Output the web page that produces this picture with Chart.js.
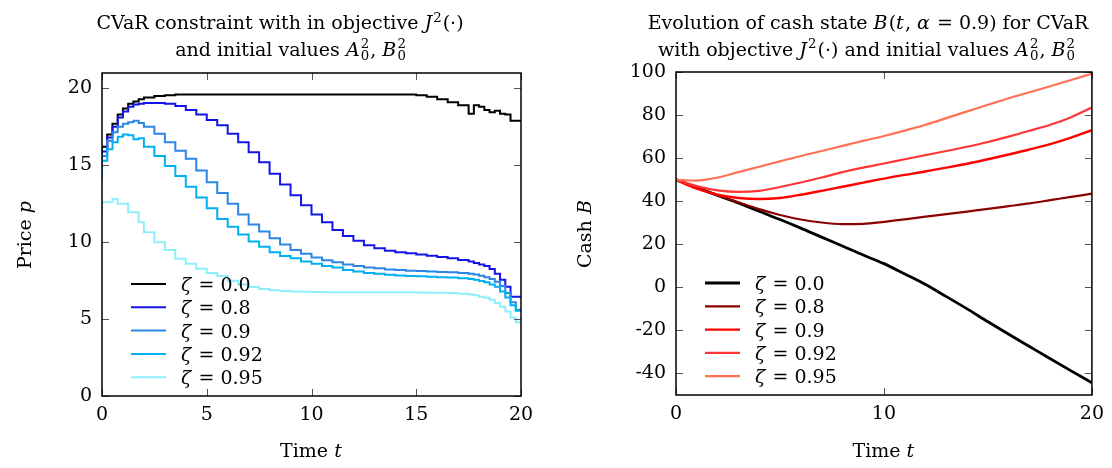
<!DOCTYPE html>
<html>
<head>
<meta charset="utf-8">
<script src="https://cdn.jsdelivr.net/npm/chart.js@4.4.0/dist/chart.umd.min.js"></script>
<style>
  html, body { margin: 0; padding: 0; background: #fff; }
  #wrap { position: relative; width: 1112px; height: 468px; }
  .panel { position: absolute; top: 0; width: 556px; height: 468px; }
</style>
</head>
<body>
<div id="wrap">
  <div class="panel" style="left:0"><canvas id="priceChart" width="556" height="468"></canvas></div>
  <div class="panel" style="left:556px"><canvas id="cashChart" width="556" height="468"></canvas></div>
</div>
<script>
// ---- left panel: price p(t), piecewise constant ----
const priceTimes = [0, 0.25, 0.5, 0.75, 1, 1.25, 1.5, 1.75, 2, 2.5, 3, 3.5, 4, 4.5, 5, 5.5, 6, 6.5, 7, 7.5,
  8, 8.5, 9, 9.5, 10, 10.5, 11, 11.5, 12, 12.5, 13, 13.5, 14, 14.5, 15, 15.5, 16, 16.5, 17, 17.5,
  17.75, 18, 18.25, 18.5, 18.75, 19, 19.25, 19.5, 19.75, 20];
const price00 = [14.8, 16.2, 17.0, 17.7, 18.3, 18.7, 19.0, 19.15, 19.3, 19.4, 19.5, 19.55, 19.6, 19.6,
  19.6, 19.6, 19.6, 19.6, 19.6, 19.6, 19.6, 19.6, 19.6, 19.6, 19.6, 19.6, 19.6, 19.6, 19.6, 19.6, 19.6, 19.6, 19.6, 19.6,
  19.6, 19.55, 19.45, 19.3, 19.1, 18.9, 18.35, 18.9, 18.8, 18.6, 18.45, 18.55, 18.35, 18.3, 17.9, 17.9];
const price80 = [14.5, 15.9, 16.8, 17.5, 18.1, 18.5, 18.8, 18.95, 19.0, 19.05, 19.05, 19.0, 18.85, 18.6,
  18.3, 17.95, 17.6, 17.05, 16.5, 15.85, 15.2, 14.45, 13.75, 13.05, 12.4, 11.8, 11.3, 10.8, 10.4, 10.1, 9.8, 9.6, 9.45, 9.35,
  9.28, 9.2, 9.12, 9.03, 8.95, 8.85, 8.75, 8.65, 8.55, 8.45, 8.25, 7.95, 7.55, 7.1, 6.45, 6.45];
const price90 = [14.3, 15.6, 16.6, 17.15, 17.5, 17.7, 17.8, 17.9, 17.75, 17.5, 17.05, 16.5, 15.95, 15.42,
  14.66, 13.9, 13.2, 12.5, 11.8, 11.15, 10.7, 10.25, 9.85, 9.5, 9.25, 9.0, 8.82, 8.7, 8.55, 8.45, 8.35, 8.3, 8.22, 8.2,
  8.15, 8.12, 8.1, 8.07, 8.05, 8.0, 7.95, 7.9, 7.82, 7.72, 7.6, 7.42, 7.15, 6.7, 6.1, 5.6];
const price92 = [14.1, 15.3, 16.05, 16.5, 16.85, 17.0, 16.95, 16.7, 16.75, 16.2, 15.6, 14.95, 14.3, 13.6,
  12.9, 12.2, 11.5, 11.0, 10.5, 10.05, 9.7, 9.35, 9.1, 8.95, 8.75, 8.6, 8.45, 8.35, 8.2, 8.1, 8.0, 7.95, 7.88, 7.83,
  7.8, 7.78, 7.75, 7.72, 7.7, 7.65, 7.6, 7.55, 7.48, 7.4, 7.25, 7.1, 6.8, 6.4, 5.9, 5.55];
const price95 = [11.95, 12.6, 12.6, 12.8, 12.5, 12.5, 11.95, 11.95, 11.3, 10.65, 10.0, 9.5, 8.92, 8.6,
  8.27, 8.0, 7.8, 7.5, 7.25, 7.08, 6.95, 6.88, 6.82, 6.8, 6.78, 6.76, 6.75, 6.75, 6.75, 6.75, 6.75, 6.75, 6.75, 6.75,
  6.74, 6.73, 6.72, 6.71, 6.7, 6.65, 6.6, 6.55, 6.45, 6.38, 6.25, 6.05, 5.8, 5.5, 5.1, 4.8];
const priceColors = ['#000000', '#1414e6', '#2b87e3', '#00b0f2', '#8eeefc'];
const priceXTicks = [0, 5, 10, 15, 20];
const priceYTicks = [0, 5, 10, 15, 20];

// ---- right panel: cash B(t) ----
const cashTimes = [0, 1, 2, 3, 4, 5, 6, 7, 8, 9, 10, 11, 12, 13, 14, 15, 16, 17, 18, 19, 20];
const cash00 = [50, 46.3, 42.7, 39.2, 35.3, 31.5, 27.5, 23.3, 19.2, 15.0, 11.0, 6.2, 1.3, -4.3, -10, -16, -21.8, -27.5, -33.2, -38.8, -44.3];
const cash80 = [50, 46.4, 42.8, 39.5, 36.3, 33.6, 31.5, 30.1, 29.4, 29.5, 30.4, 31.6, 32.8, 34.0, 35.2, 36.4, 37.7, 39.0, 40.5, 42.0, 43.5];
const cash90 = [50, 45.8, 43.0, 41.5, 41.0, 41.5, 43.0, 44.8, 46.7, 48.6, 50.5, 52.2, 53.8, 55.6, 57.4, 59.5, 61.7, 64.0, 66.5, 69.5, 73.0];
const cash92 = [50, 47.0, 45.0, 44.3, 44.8, 46.6, 48.7, 51.0, 53.5, 55.6, 57.5, 59.5, 61.4, 63.3, 65.3, 67.5, 70.0, 72.7, 75.5, 79.0, 83.5];
const cash95 = [50, 49.6, 51.0, 53.5, 56.0, 58.5, 61.0, 63.3, 65.7, 68.0, 70.3, 72.8, 75.5, 78.6, 81.7, 84.8, 87.8, 90.6, 93.4, 96.3, 99.2];
const cashColors = ['#000000', '#8b0000', '#ff0000', '#ff3535', '#ff7055'];
const cashXTicks = [0, 10, 20];
const cashYTicks = [-40, -20, 0, 20, 40, 60, 80, 100];

const zetaLabels = ['0.0', '0.8', '0.9', '0.92', '0.95'];

const FONT = '"DejaVu Serif", serif';
const FS = 19;

// rich text helpers (italic math letters, super/subscripts)
function segFont(italic, size) {
    return (italic ? 'italic ' : '') + size + 'px ' + FONT;
}
function segWidth(ctx, s, size) {
    if (s.sup !== undefined || s.sub !== undefined) {
        ctx.font = segFont(false, size * 0.7);
        const a = s.sup ? ctx.measureText(s.sup).width : 0;
        const b = s.sub ? ctx.measureText(s.sub).width : 0;
        return Math.max(a, b) + 1;
    }
    ctx.font = segFont(s.i, size);
    return ctx.measureText(s.t).width + (s.i ? size * 0.06 : 0);
}
function drawRich(ctx, segs, cx, y, size, align) {
    let total = 0;
    segs.forEach(s => { total += segWidth(ctx, s, size); });
    let x = align === 'left' ? cx : cx - total / 2;
    ctx.textAlign = 'left';
    ctx.textBaseline = 'alphabetic';
    ctx.fillStyle = '#000';
    segs.forEach(s => {
        const w = segWidth(ctx, s, size);
        if (s.sup !== undefined || s.sub !== undefined) {
            ctx.font = segFont(false, size * 0.7);
            if (s.sup) ctx.fillText(s.sup, x, y - size * (s.sub ? 0.42 : 0.38));
            if (s.sub) ctx.fillText(s.sub, x, y + size * 0.26);
        } else {
            ctx.font = segFont(s.i, size);
            ctx.fillText(s.t, x, y);
        }
        x += w;
    });
}

const decorPlugin = {
    id: 'decor',
    afterDatasetsDraw(chart, args, opts) {
        const ctx = chart.ctx;
        const area = chart.chartArea;
        const xs = chart.scales.x, ys = chart.scales.y;
        ctx.save();

        // inward tick marks on all four sides
        ctx.strokeStyle = '#555';
        ctx.lineWidth = 1;
        ctx.beginPath();
        xs.ticks.forEach(t => {
            const px = Math.round(xs.getPixelForValue(t.value)) + 0.5;
            ctx.moveTo(px, area.bottom); ctx.lineTo(px, area.bottom - 7);
            ctx.moveTo(px, area.top); ctx.lineTo(px, area.top + 7);
        });
        ys.ticks.forEach(t => {
            const py = Math.round(ys.getPixelForValue(t.value)) + 0.5;
            ctx.moveTo(area.left, py); ctx.lineTo(area.left + 7, py);
            ctx.moveTo(area.right, py); ctx.lineTo(area.right - 7, py);
        });
        ctx.stroke();

        // frame
        ctx.strokeStyle = '#000';
        ctx.lineWidth = 1.5;
        ctx.strokeRect(area.left, area.top, area.right - area.left, area.bottom - area.top);

        // legend inside the plot, lower left
        chart.data.datasets.forEach((ds, i) => {
            const ry = area.top + 211 + i * 23.3;
            ctx.strokeStyle = ds.borderColor;
            ctx.lineWidth = ds.borderWidth;
            ctx.beginPath();
            ctx.moveTo(area.left + 29, ry);
            ctx.lineTo(area.left + 64, ry);
            ctx.stroke();
            drawRich(ctx, [{ t: 'ζ', i: true }, { t: ' = ' + zetaLabels[i] }], area.left + 79, ry + 7, FS, 'left');
        });

        // titles
        opts.title.forEach((line, k) => {
            drawRich(ctx, line, opts.titleX[k], 29 + k * 26.5, FS);
        });

        // axis labels
        drawRich(ctx, opts.xLabel, (area.left + area.right) / 2, 457, FS);
        ctx.translate(opts.yLabelX, (area.top + area.bottom) / 2);
        ctx.rotate(-Math.PI / 2);
        drawRich(ctx, opts.yLabel, 0, 0, FS);
        ctx.restore();
    }
};

function scaleOpts(min, max, tickVals, fixed, horizontal) {
    return {
        type: 'linear',
        min: min,
        max: max,
        grid: { display: false, drawTicks: false },
        border: { display: false },
        afterBuildTicks: s => { s.ticks = tickVals.map(v => ({ value: v })); },
        afterFit: s => { if (horizontal) s.height = fixed; else s.width = fixed; },
        ticks: {
            color: '#000',
            font: { family: FONT, size: FS },
            padding: horizontal ? 8 : 10,
            maxRotation: 0,
            autoSkip: false
        }
    };
}

function makeSets(times, series, colors, stepped, widths) {
    return series.map((vals, i) => ({
        data: times.map((t, k) => ({ x: t, y: vals[k] })),
        borderColor: colors[i],
        borderWidth: widths[i],
        pointRadius: 0,
        fill: false,
        stepped: stepped ? 'after' : false,
        cubicInterpolationMode: stepped ? 'default' : 'monotone',
        order: -i
    }));
}

new Chart(document.getElementById('priceChart'), {
    type: 'line',
    data: {
        datasets: makeSets(priceTimes, [price00, price80, price90, price92, price95], priceColors, true, [2, 2, 2, 2, 2])
    },
    plugins: [decorPlugin],
    options: {
        responsive: false,
        animation: false,
        events: [],
        devicePixelRatio: 1,
        layout: { padding: { top: 73, right: 35, left: 0, bottom: 0 } },
        scales: {
            x: scaleOpts(0, 20, priceXTicks, 72, true),
            y: scaleOpts(0, 21, priceYTicks, 102, false)
        },
        plugins: {
            legend: { display: false },
            tooltip: { enabled: false },
            decor: {
                title: [
                    [{ t: 'CVaR constraint with in objective ' }, { t: 'J', i: true }, { sup: '2' }, { t: '(·)' }],
                    [{ t: 'and initial values ' }, { t: 'A', i: true }, { sup: '2', sub: '0' }, { t: ', ' }, { t: 'B', i: true }, { sup: '2', sub: '0' }]
                ],
                titleX: [280, 291],
                xLabel: [{ t: 'Time ' }, { t: 't', i: true }],
                yLabel: [{ t: 'Price ' }, { t: 'p', i: true }],
                yLabelX: 31
            }
        }
    }
});

new Chart(document.getElementById('cashChart'), {
    type: 'line',
    data: {
        datasets: makeSets(cashTimes, [cash00, cash80, cash90, cash92, cash95], cashColors, false, [2.8, 2.2, 2.4, 2.2, 2.2])
    },
    plugins: [decorPlugin],
    options: {
        responsive: false,
        animation: false,
        events: [],
        devicePixelRatio: 1,
        layout: { padding: { top: 72, right: 19, left: 0, bottom: 0 } },
        scales: {
            x: scaleOpts(0, 20, cashXTicks, 73, true),
            y: scaleOpts(-50, 100, cashYTicks, 120, false)
        },
        plugins: {
            legend: { display: false },
            tooltip: { enabled: false },
            decor: {
                title: [
                    [{ t: 'Evolution of cash state ' }, { t: 'B', i: true }, { t: '(' }, { t: 't', i: true }, { t: ', ' }, { t: 'α', i: true }, { t: ' = 0.9) for CVaR' }],
                    [{ t: 'with objective ' }, { t: 'J', i: true }, { sup: '2' }, { t: '(·) and initial values ' }, { t: 'A', i: true }, { sup: '2', sub: '0' }, { t: ', ' }, { t: 'B', i: true }, { sup: '2', sub: '0' }]
                ],
                titleX: [312, 311],
                xLabel: [{ t: 'Time ' }, { t: 't', i: true }],
                yLabel: [{ t: 'Cash ' }, { t: 'B', i: true }],
                yLabelX: 35
            }
        }
    }
});
</script>
</body>
</html>
